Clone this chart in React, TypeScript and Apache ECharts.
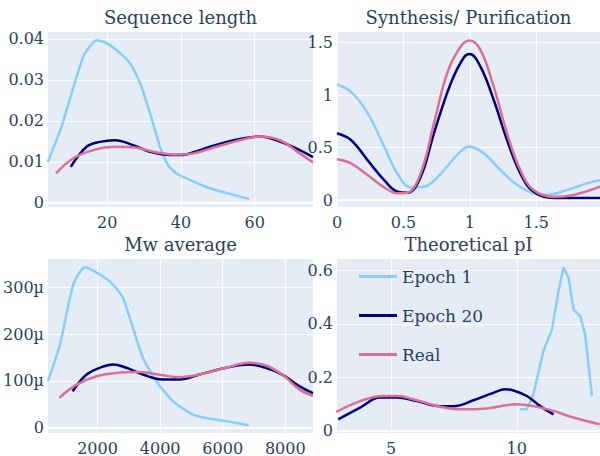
import React, { useEffect, useRef } from "react";
import * as echarts from "echarts";

const SERIES_NAMES = ["Epoch 1", "Epoch 20", "Real"];
const COLORS = ["#87CEFA", "#000080", "#DB7093"];
const TITLES = ["Sequence length", "Synthesis/ Purification", "Mw average", "Theoretical pI"];

// Panel 1: Sequence length
const seqE1X = [3.9, 7.6, 13.5, 17.1, 19.8, 23.4, 26.1, 28.9, 31.6, 34.3, 36.5, 38.8, 41.5, 46.9, 52.4, 58.5];
const seqE1Y = [0.01, 0.0186, 0.0357, 0.0397, 0.039, 0.0366, 0.0341, 0.0292, 0.0219, 0.0137, 0.0092, 0.0072, 0.006, 0.0039, 0.0024, 0.001];
const seqE20X = [10.1, 14.4, 18, 22.1, 27, 31.6, 37, 40, 45.1, 52.4, 61.4, 65.9, 72.2, 75.8];
const seqE20Y = [0.0088, 0.0137, 0.0149, 0.0153, 0.0141, 0.0125, 0.0117, 0.0117, 0.0129, 0.0149, 0.0162, 0.0153, 0.0129, 0.0112];
const seqRealX = [6.1, 10.8, 16.2, 22.5, 27, 32.5, 38.8, 42, 49.6, 56, 61.4, 66.8, 72.2, 75.8];
const seqRealY = [0.0072, 0.0109, 0.0129, 0.0137, 0.0136, 0.0125, 0.0118, 0.0119, 0.0137, 0.0153, 0.0162, 0.0153, 0.0121, 0.0099];

// Panel 2: Synthesis/ Purification
const synE1X = [0, 0.105, 0.23, 0.355, 0.456, 0.556, 0.655, 0.78, 0.906, 0.993, 1.106, 1.23, 1.357, 1.48, 1.58, 1.73, 1.88, 1.98];
const synE1Y = [1.1, 1.03, 0.83, 0.51, 0.25, 0.12, 0.127, 0.25, 0.43, 0.51, 0.445, 0.286, 0.143, 0.064, 0.05, 0.095, 0.159, 0.19];
const synE20X = [0, 0.105, 0.23, 0.355, 0.456, 0.53, 0.63, 0.73, 0.856, 0.956, 1.0, 1.08, 1.18, 1.28, 1.38, 1.48, 1.63, 1.98];
const synE20Y = [0.636, 0.572, 0.38, 0.19, 0.079, 0.07, 0.222, 0.636, 1.11, 1.36, 1.39, 1.27, 0.953, 0.572, 0.254, 0.079, 0.02, 0.02];
const synRealX = [0, 0.105, 0.23, 0.355, 0.456, 0.53, 0.63, 0.73, 0.83, 0.93, 1.0, 1.08, 1.18, 1.28, 1.38, 1.48, 1.63, 1.78, 1.98];
const synRealY = [0.388, 0.35, 0.238, 0.121, 0.064, 0.07, 0.254, 0.73, 1.21, 1.46, 1.52, 1.43, 1.08, 0.636, 0.286, 0.095, 0.03, 0.048, 0.127];

// Panel 3: Mw average
const mwE1X = [419, 800, 1224, 1596, 2073, 2497, 2815, 3133, 3452, 3876, 4407, 5043, 5468, 6105, 6825];
const mwE1Y = [99.6e-6, 177.6e-6, 305.5e-6, 342.6e-6, 327e-6, 305.5e-6, 277e-6, 213e-6, 149e-6, 99.6e-6, 57e-6, 28.4e-6, 21e-6, 14.3e-6, 5.7e-6];
const mwE20X = [1205, 1650, 2073, 2497, 2922, 3452, 4086, 4617, 5253, 6105, 6843, 7375, 7904, 8445, 8885];
const mwE20Y = [78e-6, 113.6e-6, 128e-6, 135e-6, 128e-6, 113.6e-6, 103e-6, 103e-6, 113.6e-6, 128e-6, 135e-6, 128e-6, 113.6e-6, 89e-6, 74e-6];
const mwRealX = [779, 1333, 1970, 2605, 3345, 4086, 4617, 5253, 6105, 6843, 7375, 7904, 8445, 8885];
const mwRealY = [64e-6, 92e-6, 110e-6, 117e-6, 119e-6, 112e-6, 108e-6, 113.6e-6, 128e-6, 138.6e-6, 133e-6, 113.6e-6, 82e-6, 68e-6];

// Panel 4: Theoretical pI
const piE1X = [10.13, 10.4, 10.66, 11.06, 11.4, 11.66, 11.86, 12.06, 12.26, 12.52, 12.72, 12.99];
const piE1Y = [0.079, 0.079, 0.135, 0.298, 0.379, 0.523, 0.613, 0.573, 0.454, 0.429, 0.36, 0.129];
const piE20X = [2.9, 3.77, 4.56, 5.23, 6.02, 6.95, 7.48, 8.28, 9.07, 9.54, 9.87, 10.4, 10.93, 11.46];
const piE20Y = [0.041, 0.085, 0.123, 0.123, 0.11, 0.091, 0.091, 0.113, 0.141, 0.154, 0.15, 0.129, 0.091, 0.06];
const piRealX = [2.82, 3.77, 4.69, 5.23, 6.02, 6.95, 7.75, 8.67, 10.0, 10.66, 11.46, 12.25, 13.3];
const piRealY = [0.069, 0.11, 0.129, 0.129, 0.113, 0.089, 0.079, 0.081, 0.098, 0.091, 0.073, 0.048, 0.023];

// Tick values
const xTicks = [[20, 40, 60], [0, 0.5, 1, 1.5], [2000, 4000, 6000, 8000], [5, 10]];
const yTicks = [[0, 0.01, 0.02, 0.03, 0.04], [0, 0.5, 1, 1.5], [0, 100e-6, 200e-6, 300e-6], [0, 0.2, 0.4, 0.6]];
const xRanges = [[3.93, 75.8], [0, 1.98], [417, 8885], [2.85, 13.31]];
const yRanges = [[-0.00098, 0.0417], [-0.066, 1.6], [-11e-6, 360e-6], [-0.01, 0.644]];

const panels = [
  [[seqE1X, seqE1Y], [seqE20X, seqE20Y], [seqRealX, seqRealY]],
  [[synE1X, synE1Y], [synE20X, synE20Y], [synRealX, synRealY]],
  [[mwE1X, mwE1Y], [mwE20X, mwE20Y], [mwRealX, mwRealY]],
  [[piE1X, piE1Y], [piE20X, piE20Y], [piRealX, piRealY]],
];

const FONT = "DejaVu Serif";
const TXT = "#2a3f5f";

const grids = [
  { left: 48, top: 32, width: 265, height: 175 },
  { left: 337, top: 32, width: 263, height: 175 },
  { left: 48, top: 259, width: 265, height: 174 },
  { left: 337, top: 259, width: 263, height: 174 },
];
const titlePos = [
  [180.5, 17],
  [468.5, 17],
  [180.5, 244],
  [468.5, 244],
];

function fmtX(i: number) {
  return (v: number) => String(v);
}
function fmtY(i: number) {
  return (v: number) => {
    if (i === 2) {
      const u = Math.round(v * 1e6);
      return u === 0 ? "0" : u + "µ";
    }
    return String(parseFloat(v.toFixed(4)));
  };
}

export default function App() {
  const ref = useRef<HTMLDivElement>(null);
  useEffect(() => {
    if (!ref.current) return;
    const chart = echarts.init(ref.current, null, { renderer: "svg" });
    const series: any[] = [];
    panels.forEach((p, gi) => {
      p.forEach(([xs, ys], si) => {
        const s: any = {
          type: "line",
          name: SERIES_NAMES[si],
          xAxisIndex: gi,
          yAxisIndex: gi,
          data: xs.map((x, k) => [x, ys[k]]),
          showSymbol: false,
          symbol: "none",
          smooth: gi === 3 && si === 0 ? false : si === 0 && gi !== 1 ? 0.2 : 0.4,
          lineStyle: { color: COLORS[si], width: 2.5 },
          itemStyle: { color: COLORS[si] },
          z: 3 + si,
        };
        if (si === 0) {
          s.markLine = {
            silent: true,
            symbol: "none",
            label: { show: false },
            lineStyle: { color: "#ffffff", width: 2, type: "solid" },
            data: [{ yAxis: 0 }],
            z: 1,
          };
        }
        series.push(s);
      });
    });
    const option: any = {
      animation: false,
      backgroundColor: "#ffffff",
      textStyle: { fontFamily: FONT },
      grid: grids.map((g) => ({
        ...g,
        show: true,
        backgroundColor: "#E5ECF6",
        borderWidth: 0,
        containLabel: false,
        outerBoundsMode: "none",
      })),
      xAxis: grids.map((g, i) => ({
        type: "value",
        gridIndex: i,
        min: xRanges[i][0],
        max: xRanges[i][1],
        axisLine: { show: false },
        axisTick: { show: false, customValues: xTicks[i] },
        axisLabel: {
          customValues: xTicks[i],
          formatter: fmtX(i),
          color: TXT,
          fontFamily: FONT,
          fontSize: 16,
          margin: 7,
        },
        splitLine: { show: true, lineStyle: { color: "#ffffff", width: 1 } },
      })),
      yAxis: grids.map((g, i) => ({
        type: "value",
        gridIndex: i,
        min: yRanges[i][0],
        max: yRanges[i][1],
        axisLine: { show: false },
        axisTick: { show: false, customValues: yTicks[i] },
        axisLabel: {
          customValues: yTicks[i],
          formatter: fmtY(i),
          color: TXT,
          fontFamily: FONT,
          fontSize: 16,
          margin: 4,
        },
        splitLine: { show: true, lineStyle: { color: "#ffffff", width: 1 } },
      })),
      legend: {
        data: SERIES_NAMES,
        orient: "vertical",
        left: 354,
        top: 263,
        icon: "rect",
        itemWidth: 38,
        itemHeight: 3,
        itemGap: 22,
        itemStyle: { borderWidth: 0 },
        textStyle: { color: TXT, fontFamily: FONT, fontSize: 17 },
      },
      graphic: TITLES.map((t, i) => ({
        type: "text",
        x: titlePos[i][0],
        y: titlePos[i][1],
        style: {
          text: t,
          fill: TXT,
          fontFamily: FONT,
          fontSize: 18,
          align: "center",
          verticalAlign: "middle",
        },
      })),
      series,
    };
    chart.setOption(option);
    return () => chart.dispose();
  }, []);
  return (
    <div
      ref={ref}
      style={{ position: "fixed", left: 0, top: 0, width: 600, height: 456 }}
    />
  );
}
